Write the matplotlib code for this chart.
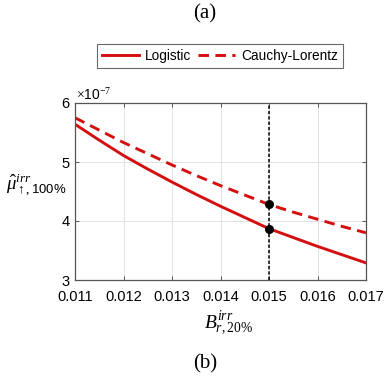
import matplotlib
matplotlib.use("Agg")
import matplotlib.pyplot as plt
import numpy as np

# Irreducible bias B (20%) vs. estimated mu (100%), two error models
b_irr = [0.011, 0.0115, 0.012, 0.0125, 0.013, 0.0135, 0.014,
         0.0145, 0.015, 0.0155, 0.016, 0.0165, 0.017]
mu_logistic = [5.64, 5.37, 5.11, 4.88, 4.66, 4.45, 4.25,
               4.06, 3.87, 3.72, 3.57, 3.43, 3.29]
mu_cauchy = [5.75, 5.54, 5.33, 5.14, 4.95, 4.77, 4.60,
             4.44, 4.28, 4.15, 4.03, 3.91, 3.80]
scale = 1e-7
b_mark = 0.015
mu_mark_logistic = 3.87
mu_mark_cauchy = 4.28

x_ticks = [0.011, 0.012, 0.013, 0.014, 0.015, 0.016, 0.017]
y_ticks = [3, 4, 5, 6]

plt.rcParams['font.family'] = ['Liberation Sans', 'DejaVu Sans']
plt.rcParams['mathtext.fontset'] = 'custom'
plt.rcParams['mathtext.it'] = 'Liberation Serif:italic'
plt.rcParams['mathtext.rm'] = 'Liberation Serif'
plt.rcParams['mathtext.sf'] = 'Liberation Sans'

fig = plt.figure(figsize=(3.85, 3.80), dpi=100)
ax = fig.add_axes([75 / 385, 1 - 280 / 380, 291 / 385, 177 / 380])

red = '#d40f0f'
ax.plot(b_irr, np.array(mu_logistic) * scale, color=red, lw=2.1, label='Logistic')
ax.plot(b_irr, np.array(mu_cauchy) * scale, color=red, lw=2.1,
        dashes=(3.6, 2.2), label='Cauchy-Lorentz')
ax.axvline(b_mark, color='black', lw=1.1, dashes=(2.2, 1.3))
ax.plot([b_mark, b_mark], np.array([mu_mark_logistic, mu_mark_cauchy]) * scale,
        'o', color='black', ms=5.5, zorder=5)

ax.set_xlim(x_ticks[0], x_ticks[-1])
ax.set_ylim(y_ticks[0] * scale, y_ticks[-1] * scale)
ax.set_xticks(x_ticks)
ax.set_xticklabels([f'{v:.3f}' for v in x_ticks])
ax.set_yticks(np.array(y_ticks) * scale)
ax.set_yticklabels([str(v) for v in y_ticks])
ax.grid(True, color='#e2e2e2', lw=0.7)
ax.set_axisbelow(True)
for s in ax.spines.values():
    s.set_color('#555555')
    s.set_linewidth(0.9)
ax.tick_params(direction='in', length=3, width=0.7, color='#555555',
               labelsize=10.5, top=True, right=True,
               labeltop=False, labelright=False)
ax.tick_params(axis='x', pad=7)
ax.tick_params(axis='y', pad=4)

fig.text(76 / 385, 1 - 95 / 380, r'$\times$10$^{-7}$', fontsize=10,
         family=['Liberation Sans'], ha='left', va='center')

fig.text(36 / 385, 1 - 185 / 380, r'$\hat{\mu}^{irr}_{\uparrow,\mathsf{100\%}}$',
         fontsize=13.5, ha='center', va='center')
fig.text(229 / 385, 1 - 323 / 380, r'$B^{irr}_{r,20\%}$',
         fontsize=14, ha='center', va='center')

fig.text(205 / 385, 1 - 14 / 380, '(a)', fontsize=15,
         family=['Liberation Serif'], ha='center', va='center')
fig.text(205 / 385, 1 - 364 / 380, '(b)', fontsize=15,
         family=['Liberation Serif'], ha='center', va='center')

leg = fig.legend(loc='center', bbox_to_anchor=(220 / 385, 1 - 56 / 380),
                 ncol=2, fontsize=9.8, frameon=True, fancybox=False,
                 handlelength=2.7, columnspacing=0.5, handletextpad=0.45,
                 borderpad=0.35)
leg.get_frame().set_edgecolor('#444444')
leg.get_frame().set_linewidth(0.8)

fig.savefig('out.png', dpi=100)
